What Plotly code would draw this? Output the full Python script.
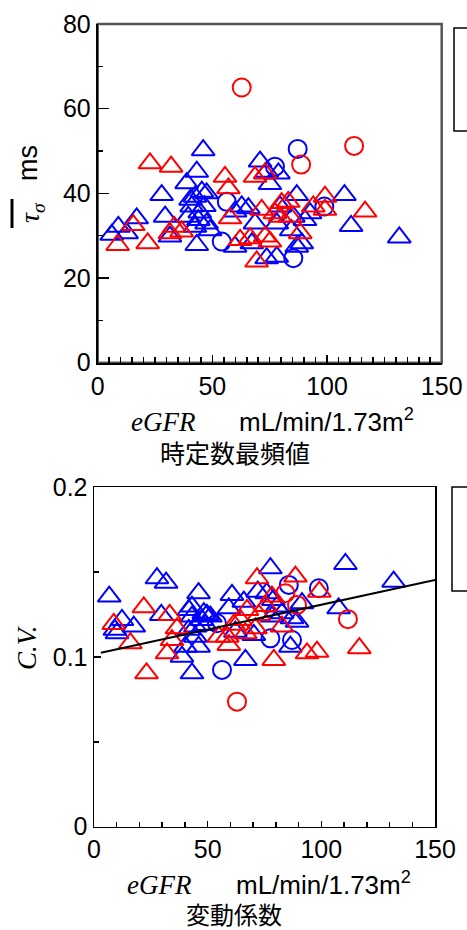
import plotly.graph_objects as go

# ---------------- data ----------------
# Top panel: time-constant mode (tau_sigma, ms) vs eGFR
top_bt_x = [6.1, 9.0, 12.6, 17.0, 27.9, 29.4, 31.5, 38.8, 43.2, 46.0, 45.4, 47.5, 42.4, 41.0, 39.5,
            43.9, 47.5, 42.4, 43.2, 49.0, 59.9, 65.7, 62.8, 59.9, 67.2, 68.6, 70.8, 73.7, 78.8, 75.1,
            73.7, 78.1, 78.1, 79.5, 86.8, 85.3, 90.4, 92.6, 84.4, 89.0, 86.8, 107.6, 110.5, 131.5,
            44.5, 40.5, 46.5]
top_bt_y = [30.2, 32.1, 30.6, 34.1, 39.6, 34.5, 29.8, 42.4, 45.1, 50.2, 40.4, 40.0, 39.2, 36.9, 34.5,
            33.7, 32.9, 32.1, 27.8, 31.3, 35.7, 36.5, 36.9, 27.4, 28.2, 32.9, 47.5, 45.1, 44.7, 42.2,
            24.7, 25.0, 32.9, 36.9, 39.6, 34.5, 33.7, 35.3, 31.3, 28.2, 27.4, 39.6, 32.3, 29.6,
            35.5, 38.5, 37.0]
top_rt_x = [8.7, 15.5, 21.8, 22.8, 32.0, 33.4, 36.6, 31.5, 55.5, 57.0, 57.7, 62.1, 66.5, 69.3, 68.6,
            73.0, 71.5, 73.0, 77.3, 80.2, 83.1, 83.9, 88.3, 94.0, 99.1, 99.1, 116.6, 75.1, 79.5]
top_rt_y = [27.8, 32.5, 28.2, 47.1, 46.3, 32.1, 31.0, 30.6, 43.9, 41.2, 34.1, 29.0, 29.4, 23.9, 43.9,
            44.7, 36.1, 29.8, 35.3, 37.7, 38.0, 34.5, 30.6, 36.9, 39.2, 36.1, 35.7, 28.6, 34.5]
top_bc_x = [54.1, 56.3, 77.3, 85.3, 87.2, 98.8]
top_bc_y = [28.6, 38.0, 46.3, 24.7, 50.5, 36.9]
top_rc_x = [62.8, 88.7, 111.8]
top_rc_y = [65.0, 46.8, 51.2]

# Bottom panel: coefficient of variation vs eGFR
bot_bt_x = [6.7, 9.2, 10.1, 12.3, 17.5, 27.7, 29.6, 31.7, 38.7, 40.2, 41.7, 41.7, 43.1, 43.1, 43.1,
            44.6, 44.6, 46.0, 46.0, 47.5, 48.3, 49.0, 49.7, 51.2, 59.3, 60.7, 62.2, 65.9, 66.6, 70.3,
            72.0, 76.0, 77.6, 78.3, 78.9, 80.4, 82.7, 86.4, 87.1, 89.3, 91.5, 107.6, 110.6, 131.8]
bot_bt_y = [0.1356, 0.1160, 0.1140, 0.1218, 0.1179, 0.1464, 0.1248, 0.1438, 0.1002, 0.1061,
            0.1277, 0.1160, 0.1238, 0.1297, 0.0904, 0.1120, 0.1179, 0.1376, 0.1061, 0.1218,
            0.1258, 0.1189, 0.1248, 0.1238, 0.1287, 0.1366, 0.1149, 0.1326, 0.0983, 0.1130,
            0.1385, 0.1376, 0.1523, 0.1238, 0.1336, 0.1297, 0.1258, 0.1061, 0.1228, 0.1208,
            0.1317, 0.1287, 0.1548, 0.1444]
bot_rt_x = [8.7, 16.0, 21.9, 23.1, 32.1, 33.3, 34.3, 36.5, 54.9, 58.6, 59.3, 61.5, 64.4, 66.6,
            67.3, 71.0, 71.7, 72.5, 75.5, 78.3, 79.1, 82.7, 88.6, 93.7, 98.1, 99.1, 116.7]
bot_rt_y = [0.1195, 0.1081, 0.1293, 0.0904, 0.1022, 0.1248, 0.1100, 0.1169, 0.1120, 0.1120,
            0.1071, 0.1190, 0.1218, 0.1140, 0.1277, 0.1169, 0.1464, 0.1248, 0.1300, 0.1356,
            0.0983, 0.1179, 0.1474, 0.1022, 0.1031, 0.1385, 0.1052]
bot_bc_x = [54.1, 56.3, 77.6, 85.7, 87.1, 98.9]
bot_bc_y = [0.1199, 0.0924, 0.1110, 0.1425, 0.1100, 0.1405]
bot_rc_x = [62.9, 84.2, 89.3, 111.7]
bot_rc_y = [0.0737, 0.1376, 0.1307, 0.1223]

fit_x = [3, 150]
fit_y = [0.1025, 0.1454]

# ---------------- styling helpers ----------------
W, H = 467, 930
def px(p):
    return p / W
def py(p):
    return 1 - p / H

BLUE = "#0000FF"
RED = "#FF0000"
TRI = dict(symbol="triangle-up-open", size=20)
CIR = dict(symbol="circle-open", size=18)

fig = go.Figure()

def add_pts(x, y, color, style, xa, ya):
    m = dict(style)
    m["color"] = color
    m["line"] = dict(width=2, color=color)
    fig.add_trace(go.Scatter(x=x, y=y, mode="markers", marker=m, xaxis=xa, yaxis=ya,
                             hoverinfo="skip", showlegend=False))

add_pts(top_bt_x, top_bt_y, BLUE, TRI, "x", "y")
add_pts(top_bc_x, top_bc_y, BLUE, CIR, "x", "y")
add_pts(top_rt_x, top_rt_y, RED, TRI, "x", "y")
add_pts(top_rc_x, top_rc_y, RED, CIR, "x", "y")

add_pts(bot_bt_x, bot_bt_y, BLUE, TRI, "x2", "y2")
add_pts(bot_bc_x, bot_bc_y, BLUE, CIR, "x2", "y2")
add_pts(bot_rt_x, bot_rt_y, RED, TRI, "x2", "y2")
add_pts(bot_rc_x, bot_rc_y, RED, CIR, "x2", "y2")

fig.add_trace(go.Scatter(x=fit_x, y=fit_y, mode="lines", line=dict(color="black", width=2),
                         xaxis="x2", yaxis="y2", hoverinfo="skip", showlegend=False))

TICKFONT = dict(family="Arial, Liberation Sans, sans-serif", size=25, color="black")

fig.update_layout(
    width=W, height=H,
    margin=dict(l=0, r=0, t=0, b=0, autoexpand=False),
    paper_bgcolor="white", plot_bgcolor="white",
    showlegend=False,
    xaxis=dict(domain=[px(97.7), px(441.7)], range=[0, 150], anchor="y", automargin=False,
               showgrid=False, zeroline=False, showline=True, linecolor="black", linewidth=2,
               ticks="inside", ticklen=8, tickwidth=1.5, tickcolor="black",
               dtick=50, tick0=0, tickfont=TICKFONT,
               minor=dict(ticks="inside", ticklen=6, dtick=5, tickwidth=1.5, tickcolor="black")),
    yaxis=dict(domain=[py(362.7), py(24)], range=[0, 80], anchor="x", automargin=False,
               showgrid=False, zeroline=False, showline=True, linecolor="black", linewidth=2,
               ticks="inside", ticklen=11, tickwidth=1.5, tickcolor="black",
               dtick=20, tick0=0, tickfont=TICKFONT,
               minor=dict(ticks="inside", ticklen=5, dtick=10, tickwidth=1.5, tickcolor="black")),
    xaxis2=dict(domain=[px(94), px(435)], range=[0, 150], anchor="y2", automargin=False,
                showgrid=False, zeroline=False, showline=True, linecolor="black", linewidth=1.5,
                mirror=True,
                ticks="inside", ticklen=6, tickwidth=1.5, tickcolor="black",
                dtick=50, tick0=0, tickfont=TICKFONT,
                minor=dict(ticks="inside", ticklen=5, dtick=10, tickwidth=1.5, tickcolor="black")),
    yaxis2=dict(domain=[py(826.7), py(487.3)], range=[0, 0.2], anchor="x2", automargin=False,
                showgrid=False, zeroline=False, showline=True, linecolor="black", linewidth=1.5,
                mirror=True,
                ticks="inside", ticklen=7, tickwidth=1.5, tickcolor="black",
                dtick=0.1, tick0=0, tickfont=TICKFONT,
                minor=dict(ticks="inside", ticklen=5, dtick=0.05, tickwidth=1.5, tickcolor="black")),
)

shapes = []
# top panel frame (gray top/right border)
shapes.append(dict(type="rect", xref="x domain", yref="y domain", x0=0, x1=1, y0=0, y1=1,
                   line=dict(color="#555555", width=2.5), layer="below"))
# legend boxes (cut off at right edge)
shapes.append(dict(type="rect", xref="paper", yref="paper", x0=px(454), x1=px(490),
                   y0=py(131), y1=py(28), line=dict(color="black", width=1.5), fillcolor="white"))
shapes.append(dict(type="rect", xref="paper", yref="paper", x0=px(452), x1=px(490),
                   y0=py(591), y1=py(487), line=dict(color="black", width=1.5), fillcolor="white"))
# overline of tau-sigma
shapes.append(dict(type="line", xref="paper", yref="paper", x0=px(12), x1=px(12),
                   y0=py(199), y1=py(228), line=dict(color="black", width=3)))
fig.update_layout(shapes=shapes)

SANS = "Arial, Liberation Sans, sans-serif"
SERIF = "Times New Roman, Liberation Serif, serif"
CJK = "Noto Sans CJK JP, sans-serif"

def ann(text, x, y, font, size, angle=0):
    fig.add_annotation(text=text, x=px(x), y=py(y), xref="paper", yref="paper",
                       showarrow=False, xanchor="center", yanchor="middle", textangle=angle,
                       font=dict(family=font, size=size, color="black"))

# top axis titles
ann("<i>τ<sub>σ</sub></i>", 32, 213, SERIF, 28, -90)
ann("ms", 28, 163, SANS, 27, -90)
ann("<i>eGFR</i>", 163, 422, SERIF, 27)
ann("mL/min/1.73m<sup>2</sup>", 326, 420, SANS, 26)
ann("時定数最頻値", 235, 452, CJK, 25)

# bottom axis titles
ann("<i>C.V.</i>", 27, 648, SERIF, 27, -90)
ann("<i>eGFR</i>", 159, 885, SERIF, 27)
ann("mL/min/1.73m<sup>2</sup>", 323, 883, SANS, 26)
ann("変動係数", 234, 913, CJK, 24)

fig.write_html("out.html",
               config={"displayModeBar": False, "staticPlot": True},
               post_script="document.body.style.margin='0';document.body.style.overflow='hidden';")
